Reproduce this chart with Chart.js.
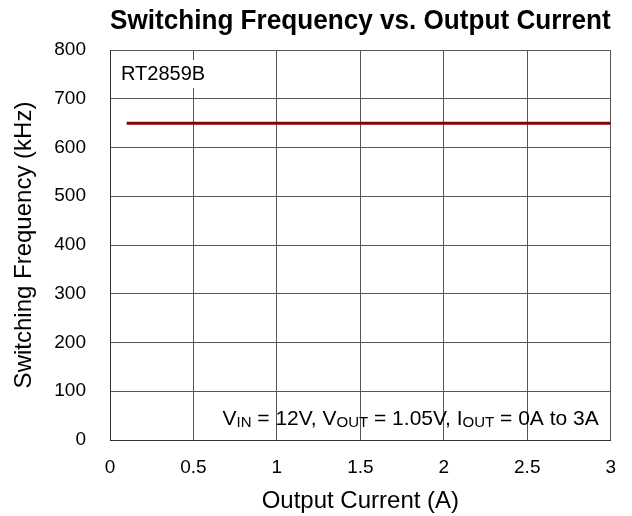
<!DOCTYPE html>
<html>
<head>
<meta charset="utf-8">
<script src="https://cdn.jsdelivr.net/npm/chart.js@4"></script>
<style>
  html, body { margin: 0; padding: 0; background: #fff; }
  #wrap { width: 632px; height: 516px; }
</style>
</head>
<body>
<div id="wrap"><canvas id="chart"></canvas></div>
<script>
// data
var current = [0.1, 0.5, 1, 1.5, 2, 2.5, 3];
var freq = [650, 650, 650, 650, 650, 650, 650];
var partName = "RT2859B";
var FONT = "'Liberation Sans', Arial, sans-serif";

// labels drawn on top of the plot
var notes = {
  id: "notes",
  afterDraw: function (chart) {
    var c = chart.ctx, a = chart.chartArea;
    c.save();
    c.font = "20px " + FONT;
    c.textBaseline = "alphabetic";
    c.textAlign = "left";
    var w = c.measureText(partName).width;
    c.fillStyle = "#fff";
    c.fillRect(a.left + 8, a.top + 10, w + 6, 28);
    c.fillStyle = "#000";
    c.fillText(partName, a.left + 11, a.top + 30);

    // conditions line with subscripts
    var parts = [
      ["V", 0], ["IN", 1], [" = 12V, V", 0], ["OUT", 1],
      [" = 1.05V, I", 0], ["OUT", 1], [" = 0A to 3A", 0]
    ];
    var big = "21px " + FONT, small = "15px " + FONT;
    var total = 0;
    parts.forEach(function (p) {
      c.font = p[1] ? small : big;
      total += c.measureText(p[0]).width;
    });
    var x = a.right - 12 - total, y = a.bottom - 15;
    parts.forEach(function (p) {
      c.font = p[1] ? small : big;
      c.fillText(p[0], x, p[1] ? y + 2 : y);
      x += c.measureText(p[0]).width;
    });
    c.restore();
  }
};

new Chart(document.getElementById("chart"), {
  type: "line",
  data: {
    datasets: [{
      data: current.map(function (v, i) { return { x: v, y: freq[i] }; }),
      borderColor: "#8b0000",
      borderWidth: 3,
      pointRadius: 0,
      tension: 0,
      fill: false
    }]
  },
  options: {
    responsive: true,
    maintainAspectRatio: false,
    animation: false,
    layout: { padding: { top: 0, right: 21, bottom: 0, left: 0 } },
    plugins: {
      legend: { display: false },
      tooltip: { enabled: false },
      title: {
        display: true,
        fullSize: false,
        text: "Switching Frequency vs. Output Current",
        color: "#000",
        font: { family: FONT, size: 27, weight: "bold" },
        padding: { top: 5, bottom: 12.6 }
      }
    },
    scales: {
      x: {
        type: "linear",
        min: 0, max: 3,
        ticks: {
          stepSize: 0.5, color: "#000", font: { family: FONT, size: 19 }, padding: 16,
          callback: function (v) { return String(v); }
        },
        grid: { color: "#555", lineWidth: 1, drawTicks: false },
        border: { color: "#333", width: 1 },
        title: { display: true, text: "Output Current (A)", color: "#000",
                 font: { family: FONT, size: 24 }, padding: { top: 4, bottom: 0 } },
        afterFit: function (s) { s.height = 76; }
      },
      y: {
        min: 0, max: 800,
        ticks: { stepSize: 100, color: "#000", font: { family: FONT, size: 19 }, padding: 24 },
        grid: { color: "#555", lineWidth: 1, drawTicks: false },
        border: { color: "#333", width: 1 },
        title: { display: true, text: "Switching Frequency (kHz)", color: "#000",
                 font: { family: FONT, size: 24 }, padding: { top: 10, bottom: 0 } },
        afterFit: function (s) { s.width = 110; }
      }
    }
  },
  plugins: [notes]
});
</script>
</body>
</html>
